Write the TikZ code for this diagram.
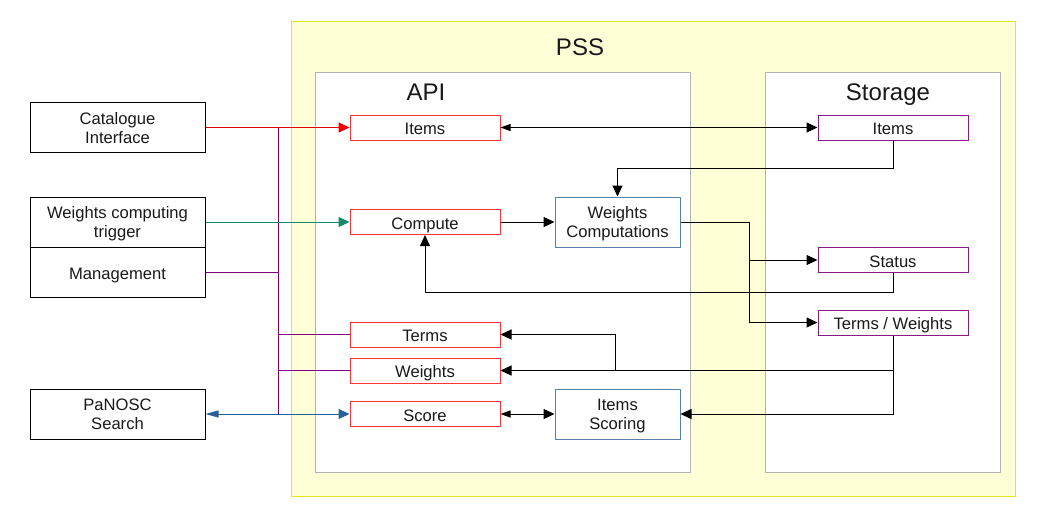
\documentclass[tikz,border=0pt]{standalone}
\usepackage{fontspec}
\setmainfont{Liberation Sans}
\usetikzlibrary{arrows.meta}
\definecolor{pssfill}{HTML}{FFFFD7}
\definecolor{pssdraw}{HTML}{E6E619}
\definecolor{boxgray}{HTML}{B3B3B3}
\definecolor{apired}{HTML}{FF3333}
\definecolor{stopurple}{HTML}{8B1A89}
\definecolor{procblue}{HTML}{5A7FAF}
\definecolor{linered}{HTML}{E00000}
\definecolor{lineteal}{HTML}{128A6A}
\definecolor{linepurple}{HTML}{800080}
\definecolor{lineblue}{HTML}{2A6099}
\tikzset{
  every node/.style={font=\fontsize{16.6}{19}\selectfont, text=black!90, align=center, text depth=0pt},
  oneline/.style={text height=14pt, text depth=0pt},
  extbox/.style={draw=black, line width=1pt, rectangle, inner sep=0pt, minimum width=175pt, minimum height=50pt},
  container/.style={draw=boxgray, fill=white, line width=1pt, rectangle, inner sep=0pt},
  apinode/.style={draw=apired, line width=1pt, rectangle, inner sep=0pt, minimum width=150pt, minimum height=25pt, oneline},
  stonode/.style={draw=stopurple, line width=1pt, rectangle, inner sep=0pt, minimum width=150pt, minimum height=25pt, oneline},
  procnode/.style={draw=procblue, line width=1pt, rectangle, inner sep=0pt, minimum width=125pt, minimum height=50pt},
  title/.style={font=\fontsize{24}{28}\selectfont},
  conn/.style={line width=1pt, draw=black},
  endtip/.style={-{Triangle[length=11pt,width=10pt]}},
  bothtip/.style={{Triangle[length=10pt,width=7pt]}-{Triangle[length=11pt,width=10pt]}},
}
\begin{document}
\begin{tikzpicture}[x=1pt,y=-1pt]
\useasboundingbox (0,0) rectangle (1042,523);
% containers
\node[draw=pssdraw, fill=pssfill, line width=1pt, rectangle, inner sep=0pt, minimum width=724pt, minimum height=475pt] (pss) at (653,258.5) {};
\node[container, minimum width=375pt, minimum height=400pt] (api) at (502.5,272) {};
\node[container, minimum width=235pt, minimum height=400pt] (sto) at (882.5,272) {};
\node[title] (psslbl) at (580,47) {PSS};
\node[title] (apilbl) at (426,92) {API};
\node[title] (stolbl) at (888,92) {Storage};
% external boxes
\node[extbox] (ci) at (117.5,127.5) {Catalogue\\Interface};
\node[extbox] (wt) at (117.5,222) {Weights computing\\trigger};
\node[extbox, oneline] (mg) at (117.5,272) {Management};
\node[extbox] (pan) at (117.5,414) {PaNOSC\\Search};
% api nodes
\node[apinode] (items) at (425,127.5) {Items};
\node[apinode] (compute) at (425,222) {Compute};
\node[apinode] (terms) at (425,334.5) {Terms};
\node[apinode] (weights) at (425,370.5) {Weights};
\node[apinode] (score) at (425,414) {Score};
\node[procnode] (wc) at (617.5,222) {Weights\\Computations};
\node[procnode] (is) at (617.5,414) {Items\\Scoring};
% storage nodes
\node[stonode] (sitems) at (893,127.5) {Items};
\node[stonode] (status) at (893,260) {Status};
\node[stonode] (tw) at (893,322.5) {Terms / Weights};
% helper coordinates
\coordinate (bus) at (278,0);
\coordinate (jx) at (749,0);
\coordinate (jt) at (615,0);
% left connectors
\draw[line width=1pt, draw=linepurple] (ci.east -| bus) -- (pan.east -| bus);
\draw[line width=1pt, draw=linepurple] (mg.east) -- (mg.east -| bus);
\draw[line width=1pt, draw=linepurple] (terms.west -| bus) -- (terms.west);
\draw[line width=1pt, draw=linepurple] (weights.west -| bus) -- (weights.west);
\draw[line width=1pt, draw=linered, -{Triangle[length=11pt,width=10pt,fill=red]}] (ci.east) -- (items.west);
\draw[line width=1pt, draw=lineteal, endtip] (wt.east) -- (compute.west);
\draw[line width=1pt, draw=lineblue, {Triangle[length=13pt,width=7pt]}-{Triangle[length=11pt,width=10pt]}] (pan.east) -- (score.west);
% black connectors
\draw[conn, bothtip] (items.east) -- (sitems.west);
\draw[conn, endtip] (sitems.south) -- ++(0,28) -| (wc.north);
\draw[conn, endtip] (compute.east) -- (wc.west);
\draw[conn, endtip] (wc.east) -| (jx |- tw.west) -- (tw.west);
\draw[conn, endtip] (jx |- status.west) -- (status.west);
\draw[conn, endtip] (status.south) -- ++(0,19) -| (compute.south);
\draw[conn, endtip] (tw.south) |- (is.east);
\draw[conn, endtip] (tw.south |- weights.east) -- (weights.east);
\draw[conn, endtip] (jt |- weights.east) |- (terms.east);
\draw[conn, bothtip] (score.east) -- (is.west);
\end{tikzpicture}
\end{document}
